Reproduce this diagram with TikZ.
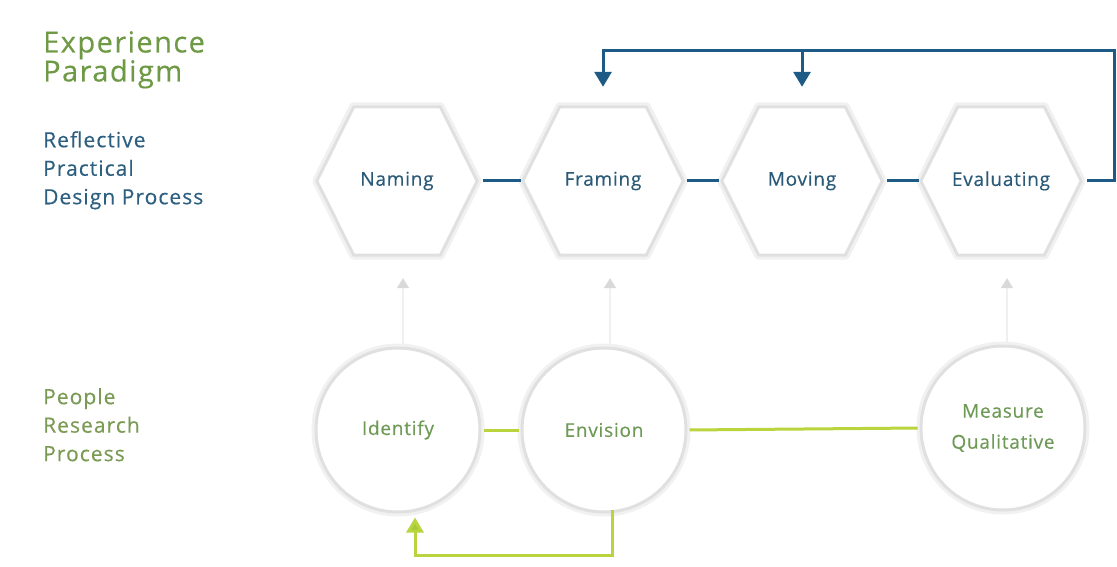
\documentclass[tikz,border=0pt]{standalone}
\usepackage{fontspec}
\setmainfont{Open Sans}[LetterSpace=4,FakeBold=0.3]
\usetikzlibrary{arrows.meta,calc}
\definecolor{titlegreen}{HTML}{6F9A45}
\definecolor{bluetext}{HTML}{2D5F80}
\definecolor{hextext}{HTML}{2A5A78}
\definecolor{peoplegreen}{HTML}{7B9B55}
\definecolor{circtext}{HTML}{6E9A55}
\definecolor{blueline}{HTML}{1E5A86}
\definecolor{greenline}{HTML}{B9D43C}
\definecolor{greenarrow}{HTML}{A6C93A}
\definecolor{shapeedge}{HTML}{E0E0E0}
\definecolor{shapeglow}{HTML}{F1F1F1}
\begin{document}
\begin{tikzpicture}[x=1pt,y=-1pt,
  hexbox/.style={rectangle, minimum width=160pt, minimum height=148pt, inner sep=0pt,
    text=hextext, font=\fontsize{19}{22}\selectfont},
  hexline/.style={draw=shapeedge, line width=3pt, line join=round, fill=white,
    preaction={draw=shapeglow, line width=9pt, line join=round}},
  circnode/.style={circle, minimum size=164pt, inner sep=0pt, fill=white,
    draw=shapeedge, line width=3pt, preaction={draw=shapeglow, line width=9pt},
    text=circtext, align=center, font=\fontsize{19}{31}\selectfont},
  bluecon/.style={draw=blueline, line width=3pt},
  bluearrow/.style={draw=blueline, line width=3pt, -{Triangle[width=17pt,length=15pt]}, shorten >=20pt},
  greencon/.style={draw=greenline, line width=3pt},
  grayarrow/.style={draw=gray!12, line width=1.5pt, -{Triangle[width=12pt,length=10pt,color=gray!30]}},
  sidelabel/.style={anchor=north west, inner sep=0pt, align=left}
]
\useasboundingbox (0,0) rectangle (1117,567);
\fill[white] (0,0) rectangle (1117,567);

% left labels
\node[sidelabel, text=titlegreen, font=\fontsize{29}{29}\selectfont\addfontfeatures{LetterSpace=5}] (title) at (43,31) {Experience\\Paradigm};
\node[sidelabel, text=bluetext, font=\fontsize{21}{28.5}\selectfont\addfontfeatures{LetterSpace=5}] (rpdp) at (43,131) {Reflective\\Practical\\Design Process};
\node[sidelabel, text=peoplegreen, font=\fontsize{21}{28.5}\selectfont\addfontfeatures{LetterSpace=5}] (prp) at (43,388) {People\\Research\\Process};

% hexagon nodes
\node[hexbox] (naming) at (397,181) {};
\node[hexbox] (framing) at (603,181) {};
\node[hexbox] (moving) at (802,181) {};
\node[hexbox] (evaluating) at (1001,181) {};
\foreach \n in {naming,framing,moving,evaluating}{
  \path[hexline] (\n.west) -- ($(\n.north west)!0.23!(\n.north east)$) -- ($(\n.north west)!0.77!(\n.north east)$)
    -- (\n.east) -- ($(\n.south west)!0.77!(\n.south east)$) -- ($(\n.south west)!0.23!(\n.south east)$) -- cycle;
}
\node[hexbox] at (naming) {Naming};
\node[hexbox] at (framing) {Framing};
\node[hexbox] at (moving) {Moving};
\node[hexbox] at (evaluating) {Evaluating};

% circle nodes
\node[circnode] (identify) at (398,430) {Identify};
\node[circnode] (envision) at (604,430) {Envision};
\node[circnode] (measure) at (1003,428) {Measure\\Qualitative};

% hexagon connectors
\draw[bluecon, shorten <=6pt, shorten >=2pt] (naming.east) -- (framing.west);
\draw[bluecon, shorten <=4pt, shorten >=3pt] (framing.east) -- (moving.west);
\draw[bluecon, shorten <=5pt, shorten >=2pt] (moving.east) -- (evaluating.west);
\coordinate (loopR) at (1114,51);
\draw[bluearrow, shorten <=6pt, line join=miter] (evaluating.east) -| (loopR) -| (framing.north);
\draw[bluearrow] (moving.north |- loopR) -- (moving.north);

% circle connectors
\draw[greencon, shorten <=2pt, shorten >=2pt] (identify.east) -- (envision.west);
\draw[greencon, shorten <=2pt, shorten >=2pt] (envision.east) -- (measure.west);
\draw[greencon, -{Triangle[width=17pt,length=15pt,fill=greenarrow]}, shorten >=2pt]
  ($(envision.south)+(8,-4)$) -- ++(0,46) -| ($(identify.south)+(17,2)$);

% gray arrows
\draw[grayarrow] ($(identify.north)+(5,0)$) -- ($(naming.south)+(6,23)$);
\draw[grayarrow] ($(envision.north)+(6,0)$) -- ($(framing.south)+(7,23)$);
\draw[grayarrow] ($(measure.north)+(4,0)$) -- ($(evaluating.south)+(6,23)$);
\end{tikzpicture}
\end{document}
